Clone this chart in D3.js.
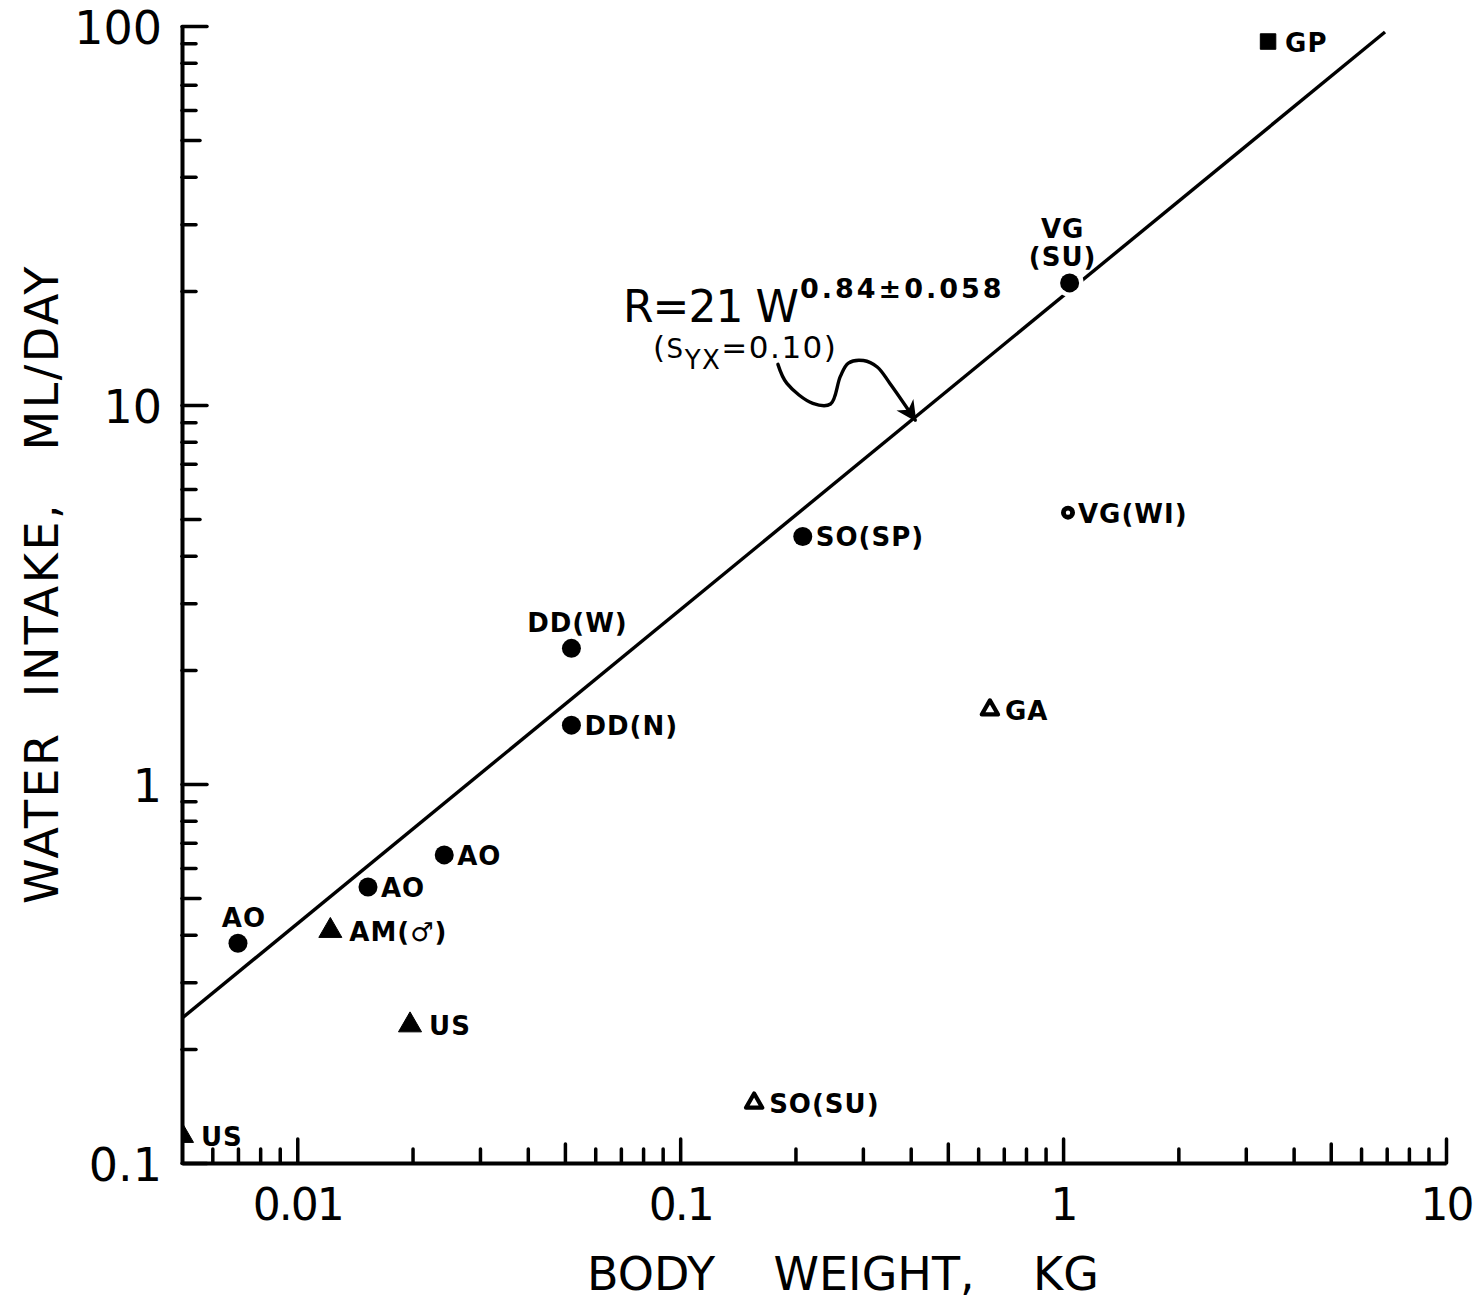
<!DOCTYPE html>
<html>
<head>
<meta charset="utf-8">
<script src="https://cdnjs.cloudflare.com/ajax/libs/d3/7.8.5/d3.min.js"></script>
<style>
  body { margin: 0; background: #fff; }
  svg { display: block; }
  text { font-family: "DejaVu Sans", sans-serif; fill: #000; }
</style>
</head>
<body>
<div id="chart"></div>
<script>
// data
const pointLabels = ["GP", "VG(SU)", "VG(WI)", "SO(SP)", "DD(W)", "DD(N)", "AO", "AO", "AO", "AM(\u2642)", "US", "US", "GA", "SO(SU)"];
const weightKg   = [3.43, 1.04, 1.03, 0.209, 0.052, 0.052, 0.0242, 0.0153, 0.0070, 0.0122, 0.0197, 0.0050, 0.644, 0.156];
const waterMl    = [91, 21, 5.2, 4.5, 2.28, 1.43, 0.65, 0.535, 0.38, 0.41, 0.231, 0.118, 1.57, 0.144];
const markerKind = ["square", "dot", "ring", "dot", "dot", "dot", "dot", "dot", "dot", "tri", "tri", "tri", "opentri", "opentri"];

// regression line as drawn (ends)
const fitW = [0.005, 6.93];
const fitR = [0.241, 96.4];

// curly arrow pointing at the line
const arrowW = [0.180, 0.190, 0.222, 0.247, 0.262, 0.275, 0.301, 0.327, 0.353, 0.411];
const arrowR = [12.8, 11.4, 10.1, 10.06, 11.9, 12.9, 13.1, 12.6, 11.4, 9.13];

const xMajor = [0.01, 0.1, 1, 10];
const xTickLabels = ["0.01", "0.1", "1", "10"];
const yMajor = [0.1, 1, 10, 100];
const yTickLabels = ["0.1", "1", "10", "100"];

// layout
const labelAbove = [1, 4, 8];
const twoLine = [1];

const margin = {top: 26, right: 34, bottom: 142, left: 182},
      width = 1480 - margin.left - margin.right,
      height = 1305 - margin.top - margin.bottom;

const svg = d3.select("#chart").append("svg")
    .attr("width", 1480)
    .attr("height", 1305);

const defs = svg.append("defs");
defs.append("clipPath").attr("id", "plot-clip")
  .append("rect").attr("x", 0).attr("y", -5).attr("width", width + 5).attr("height", height + 5);
defs.append("marker")
    .attr("id", "arrowhead")
    .attr("viewBox", "0 0 10 10")
    .attr("refX", 9).attr("refY", 5)
    .attr("markerWidth", 6).attr("markerHeight", 6)
    .attr("markerUnits", "strokeWidth")
    .attr("orient", "auto")
  .append("path")
    .attr("d", "M0,0L10,5L0,10L3,5Z")
    .attr("fill", "#000");

const g = svg.append("g")
    .attr("transform", "translate(" + margin.left + "," + margin.top + ")");

const x = d3.scaleLog().domain([0.005, 10]).range([0, width]);
const y = d3.scaleLog().domain([0.1, 100]).range([height, 0]);

const mantissa = v => Math.round(v / Math.pow(10, Math.floor(Math.log10(v) + 1e-9)));

const plot = g.append("g").attr("clip-path", "url(#plot-clip)");

// fitted line
plot.append("path")
    .datum(d3.range(fitW.length))
    .attr("fill", "none")
    .attr("stroke", "#000")
    .attr("stroke-width", 3.4)
    .attr("d", d3.line()
        .x(i => x(fitW[i]))
        .y(i => y(fitR[i])));

const idx = d3.range(weightKg.length);

// white halo so the line breaks around markers
plot.selectAll(".halo").data(idx.filter(i => markerKind[i] == "dot")).join("circle")
    .attr("class", "halo")
    .attr("cx", i => x(weightKg[i]))
    .attr("cy", i => y(waterMl[i]))
    .attr("r", 14)
    .attr("fill", "#fff");

const sym = {
  tri: d3.symbol(d3.symbolTriangle, 230),
  opentri: d3.symbol(d3.symbolTriangle, 115),
  square: d3.symbol(d3.symbolSquare, 240)
};

idx.forEach(i => {
  const px = x(weightKg[i]), py = y(waterMl[i]);
  const k = markerKind[i];
  if (k == "dot") {
    plot.append("circle").attr("cx", px).attr("cy", py).attr("r", 9.5).attr("fill", "#000");
  } else if (k == "ring") {
    plot.append("circle").attr("cx", px).attr("cy", py).attr("r", 4.6)
        .attr("fill", "#fff").attr("stroke", "#000").attr("stroke-width", 4.8);
  } else {
    plot.append("path")
        .attr("transform", "translate(" + px + "," + py + ")")
        .attr("d", sym[k]())
        .attr("fill", k == "opentri" ? "none" : "#000")
        .attr("stroke", "#000")
        .attr("stroke-width", k == "opentri" ? 4.2 : 1)
        .attr("stroke-linejoin", "round");
  }
});

// point labels
const gapRight = {dot: 13, ring: 10, tri: 19, opentri: 15, square: 17};
idx.forEach(i => {
  const px = x(weightKg[i]), py = y(waterMl[i]);
  const t = g.append("text")
      .attr("font-size", 26)
      .attr("font-weight", "bold")
      .attr("letter-spacing", 1);
  if (twoLine.includes(i)) {
    const parts = pointLabels[i].split("(");
    t.attr("text-anchor", "middle");
    t.append("tspan").attr("x", px - 7).attr("y", py - 45).text(parts[0]);
    t.append("tspan").attr("x", px - 7).attr("y", py - 17).text("(" + parts[1]);
  } else if (labelAbove.includes(i)) {
    t.attr("text-anchor", "middle").attr("x", px + 6).attr("y", py - 16).text(pointLabels[i]);
  } else {
    t.attr("x", px + gapRight[markerKind[i]]).attr("y", py + 10).text(pointLabels[i]);
  }
});

// axes, ticks pointing inward
function styleAxis(sel) {
  sel.selectAll(".tick line").attr("stroke", "#000").attr("stroke-width", 3.5).attr("stroke-linecap", "round");
  sel.select(".domain").attr("stroke", "#000").attr("stroke-width", 4);
}

const yAll = y.ticks();
const yMid = yAll.filter(v => mantissa(v) == 5);
const yMinor = yAll.filter(v => mantissa(v) != 5 && mantissa(v) != 1);

g.append("g").call(d3.axisLeft(y).tickValues(yMinor).tickSize(-14).tickSizeOuter(0).tickFormat(""))
  .call(styleAxis).call(s => s.select(".domain").remove());
g.append("g").call(d3.axisLeft(y).tickValues(yMid).tickSize(-18).tickSizeOuter(0).tickFormat(""))
  .call(styleAxis).call(s => s.select(".domain").remove());
const yAxisG = g.append("g")
  .call(d3.axisLeft(y).tickValues(yMajor).tickSize(-25).tickSizeOuter(0).tickPadding(20)
      .tickFormat((d, i) => yTickLabels[i]))
  .call(styleAxis);
yAxisG.selectAll(".tick text")
    .attr("font-family", "DejaVu Sans")
    .attr("font-size", 46)
    .attr("dy", "0.37em");

const xAll = x.ticks().filter(v => v > 0.0051);
const xMid = xAll.filter(v => mantissa(v) == 5);
const xMinor = xAll.filter(v => mantissa(v) != 5 && mantissa(v) != 1);

const xg = g.append("g").attr("transform", "translate(0," + height + ")");
xg.append("g").call(d3.axisBottom(x).tickValues(xMinor).tickSize(-14).tickSizeOuter(0).tickFormat(""))
  .call(styleAxis).call(s => s.select(".domain").remove());
xg.append("g").call(d3.axisBottom(x).tickValues(xMid).tickSize(-19).tickSizeOuter(0).tickFormat(""))
  .call(styleAxis).call(s => s.select(".domain").remove());
const xAxisG = xg.append("g")
  .call(d3.axisBottom(x).tickValues(xMajor).tickSize(-24).tickSizeOuter(0)
      .tickFormat((d, i) => xTickLabels[i]))
  .call(styleAxis);
xAxisG.selectAll(".tick text")
    .attr("font-family", "DejaVu Sans")
    .attr("font-size", 44)
    .attr("letter-spacing", -2)
    .attr("y", 57)
    .attr("dy", 0);

// axis titles
svg.append("text")
    .attr("x", 843).attr("y", 1290)
    .attr("text-anchor", "middle")
    .attr("font-size", 46)
    .style("white-space", "pre")
    .text("BODY    WEIGHT,    KG");

svg.append("text")
    .attr("transform", "translate(58,584) rotate(-90)")
    .attr("text-anchor", "middle")
    .attr("font-size", 46)
    .attr("letter-spacing", 2.5)
    .style("white-space", "pre")
    .text("WATER  INTAKE,   ML/DAY");

// equation and arrow
const eq = svg.append("text").attr("x", 623).attr("y", 322);
eq.append("tspan").attr("font-size", 44).attr("letter-spacing", -1).text("R=21 W");
eq.append("tspan").attr("x", 800).attr("y", 298).attr("font-size", 27).attr("font-weight", "bold")
    .attr("letter-spacing", 3).text("0.84\u00b10.058");

const eq2 = svg.append("text").attr("x", 653).attr("y", 358).attr("font-size", 31).attr("letter-spacing", 1.5);
eq2.append("tspan").text("(");
eq2.append("tspan").attr("font-size", 26).text("S");
eq2.append("tspan").attr("font-size", 26).attr("dy", 11).text("YX");
eq2.append("tspan").attr("dy", -11).text("=0.10)");

g.append("path")
    .datum(d3.range(arrowW.length))
    .attr("fill", "none")
    .attr("stroke", "#000")
    .attr("stroke-width", 3.4)
    .attr("stroke-linecap", "round")
    .attr("marker-end", "url(#arrowhead)")
    .attr("d", d3.line().curve(d3.curveCatmullRom)
        .x(i => x(arrowW[i]))
        .y(i => y(arrowR[i])));
</script>
</body>
</html>
